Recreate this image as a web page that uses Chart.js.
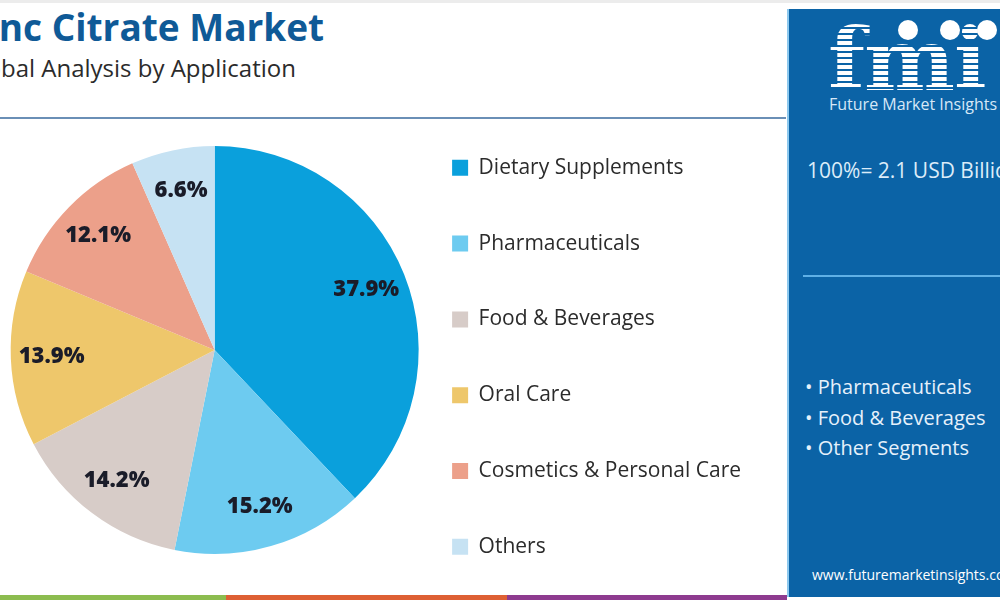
<!DOCTYPE html>
<html>
<head>
<meta charset="utf-8">
<script src="https://cdn.jsdelivr.net/npm/chart.js@4.4.1/dist/chart.umd.min.js"></script>
<style>
  body { margin: 0; width: 1000px; height: 600px; overflow: hidden; background: #fff; position: relative; font-family: "Open Sans", sans-serif; }
  .topline { position: absolute; left: 0; top: 0; width: 1000px; height: 3px; background: #ececec; }
  .title { position: absolute; left: -34px; top: 1px; font-size: 37px; font-weight: 700; color: #0f5a97; white-space: nowrap; }
  .subtitle { position: absolute; left: -37px; top: 51px; font-size: 24px; color: #2b2b2b; white-space: nowrap; }
  .rule { position: absolute; left: 0; top: 117px; width: 786px; height: 2px; background: #6a8fb6; }
  #wrap { position: absolute; left: 0; top: 85px; width: 751px; height: 530px; }
  .panel { position: absolute; left: 787px; top: 9px; width: 213px; height: 588px; background: #0b63a6; border-left: 2px solid #8cc8ee; box-sizing: border-box; color: #e3f0fb; overflow: hidden; }
  .logo { position: absolute; left: 39px; top: 8px; font-family: "DejaVu Serif", serif; font-weight: 700; font-size: 86px; line-height: 86px; letter-spacing: -1px;
          background: repeating-linear-gradient(#fff 0 4px, #0b63a6 4px 6px); -webkit-background-clip: text; background-clip: text; color: transparent; }
  .dot { position: absolute; top: 11px; width: 20px; height: 20px; border-radius: 50%; background: #fff; }
  .brand { position: absolute; left: 40px; top: 84px; font-size: 16px; color: #d6e8f7; white-space: nowrap; }
  .total { position: absolute; left: 18px; top: 147px; font-size: 21px; color: #dcecf9; white-space: nowrap; }
  .sep { position: absolute; left: 14px; top: 266px; width: 200px; height: 2px; background: #5fb0e6; }
  .segs { position: absolute; left: 16px; top: 363px; font-size: 20px; line-height: 30.5px; color: #e6f1fb; white-space: nowrap; }
  .url { position: absolute; left: 23px; top: 556px; font-size: 14px; color: #fff; white-space: nowrap; }
  .bar { position: absolute; top: 595px; height: 5px; }
</style>
</head>
<body>
<div class="topline"></div>
<div class="title">Zinc Citrate Market</div>
<div class="subtitle">Global Analysis by Application</div>
<div class="rule"></div>
<div id="wrap"><canvas id="myChart"></canvas></div>

<div class="panel">
  <div class="logo">fmi</div>
  <div class="dot" style="left:109px"></div>
  <div class="dot" style="left:151px"></div>
  <div class="dot" style="left:188px"></div>
  <div class="brand">Future Market Insights</div>
  <div class="total">100%= 2.1 USD Billion</div>
  <div class="sep"></div>
  <div class="segs">• Pharmaceuticals<br>• Food &amp; Beverages<br>• Other Segments</div>
  <div class="url">www.futuremarketinsights.com</div>
</div>

<div class="bar" style="left:0;width:226px;background:#8cbc4f"></div>
<div class="bar" style="left:226px;width:281px;background:#de6034"></div>
<div class="bar" style="left:507px;width:280px;background:#8e3b8f"></div>

<script>
// zinc citrate market share by application (%)
const categories = [
  "Dietary Supplements",
  "Pharmaceuticals",
  "Food & Beverages",
  "Oral Care",
  "Cosmetics & Personal Care",
  "Others",
];
const shares = [37.9, 15.2, 14.2, 13.9, 12.1, 6.6];
const sliceColors = ["#0aa0dc", "#6dcbf0", "#d7ccc8", "#eec76b", "#eca08a", "#c6e2f3"];

// percentage labels inside the slices
const sliceLabels = {
  id: "sliceLabels",
  afterDatasetsDraw(chart) {
    const ctx = chart.ctx;
    const meta = chart.getDatasetMeta(0);
    ctx.save();
    ctx.font = "800 22px 'Open Sans'";
    ctx.fillStyle = "#1a1c29";
    ctx.textAlign = "center";
    ctx.textBaseline = "middle";
    meta.data.forEach((arc, i) => {
      const p = arc.getProps(["x", "y", "startAngle", "endAngle", "outerRadius"], true);
      const mid = (p.startAngle + p.endAngle) / 2;
      const r = p.outerRadius * 0.8;
      ctx.fillText(`${shares[i].toFixed(1)}%`, p.x + Math.cos(mid) * r, p.y + Math.sin(mid) * r);
    });
    ctx.restore();
  },
};

const ctx = document.getElementById("myChart");

new Chart(ctx, {
  type: "pie",
  data: {
    labels: categories,
    datasets: [
      {
        label: "Share (%)",
        data: shares,
        backgroundColor: sliceColors,
        borderWidth: 0,
        radius: 204,
      },
    ],
  },
  options: {
    responsive: true,
    maintainAspectRatio: false,
    animation: false,
    layout: { padding: { left: 32 } },
    plugins: {
      tooltip: { enabled: false },
      legend: {
        position: "right",
        align: "start",
        // empty title only nudges the first row down
        title: { display: true, text: "", font: { size: 12, lineHeight: 1 }, padding: { top: 3, bottom: 2.5 } },
        labels: {
          boxWidth: 16,
          boxHeight: 16,
          padding: 54.8,
          color: "#2b2b2b",
          font: { family: "'Open Sans'", size: 21 },
        },
      },
    },
  },
  plugins: [sliceLabels],
});
</script>
</body>
</html>
